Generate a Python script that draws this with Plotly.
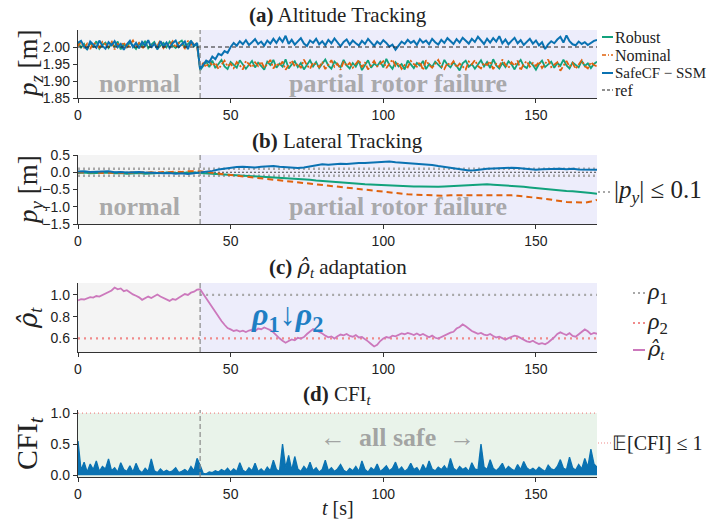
import plotly.graph_objects as go

# ---------------- data ----------------
t = list(range(0, 171))           # time [s], 1 s sampling
t_lat = list(range(0, 171, 2))    # time [s], 2 s sampling for lateral panel

x_ticks = [0, 50, 100, 150]
failure_time = 40
t_end = 170

pz_robust = [
    2.014, 1.998, 2.009, 1.992, 2.012, 2.001, 2.017, 1.995, 2.006, 2.013,
    1.997, 2.010, 2.002, 2.016, 1.993, 2.008, 1.999, 2.014, 2.004, 1.994,
    2.011, 2.003, 2.018, 1.996, 2.007, 2.015, 1.995, 2.005, 2.012, 1.999,
    2.016, 2.004, 1.997, 2.013, 2.019, 2.000, 2.009, 2.017, 2.002, 2.010,
    1.932, 1.944, 1.957, 1.941, 1.960, 1.938, 1.951, 1.962, 1.943, 1.935,
    1.956, 1.946, 1.939, 1.961, 1.950, 1.936, 1.948, 1.959, 1.940, 1.954,
    1.944, 1.933, 1.957, 1.947, 1.962, 1.939, 1.951, 1.942, 1.964, 1.937,
    1.949, 1.958, 1.941, 1.953, 1.934, 1.946, 1.961, 1.943, 1.956, 1.938,
    1.950, 1.963, 1.945, 1.936, 1.957, 1.948, 1.940, 1.962, 1.946, 1.937,
    1.953, 1.942, 1.959, 1.932, 1.948, 1.961, 1.939, 1.951, 1.944, 1.957,
    1.940, 1.965, 1.947, 1.936, 1.955, 1.943, 1.950, 1.934, 1.960, 1.948,
    1.938, 1.953, 1.945, 1.959, 1.935, 1.950, 1.941, 1.957, 1.947, 1.939,
    1.962, 1.948, 1.940, 1.955, 1.944, 1.931, 1.952, 1.960, 1.942, 1.950,
    1.936, 1.949, 1.961, 1.943, 1.956, 1.938, 1.964, 1.946, 1.937, 1.953,
    1.941, 1.958, 1.949, 1.934, 1.951, 1.962, 1.944, 1.938, 1.956, 1.947,
    1.933, 1.950, 1.960, 1.941, 1.948, 1.957, 1.939, 1.953, 1.945, 1.963,
    1.946, 1.937, 1.955, 1.948, 1.940, 1.959, 1.944, 1.952, 1.938, 1.950, 1.957,
]
pz_nominal = [
    2.003, 2.016, 1.997, 2.010, 1.994, 2.013, 2.006, 1.998, 2.015, 2.008,
    2.001, 2.018, 1.993, 2.009, 2.004, 2.014, 1.996, 2.007, 2.019, 1.999,
    2.012, 1.995, 2.006, 2.016, 2.000, 2.011, 2.003, 2.020, 1.997, 2.008,
    2.005, 2.017, 1.998, 2.012, 2.007, 1.996, 2.018, 2.006, 2.014, 2.001,
    1.940, 1.952, 1.941, 1.958, 1.945, 1.954, 1.935, 1.949, 1.960, 1.943,
    1.951, 1.938, 1.956, 1.946, 1.934, 1.959, 1.948, 1.940, 1.955, 1.944,
    1.957, 1.939, 1.950, 1.962, 1.937, 1.952, 1.945, 1.957, 1.933, 1.948,
    1.960, 1.943, 1.951, 1.938, 1.963, 1.946, 1.936, 1.954, 1.949, 1.941,
    1.956, 1.935, 1.947, 1.961, 1.942, 1.951, 1.933, 1.957, 1.945, 1.953,
    1.939, 1.950, 1.962, 1.940, 1.955, 1.934, 1.946, 1.959, 1.943, 1.951,
    1.958, 1.938, 1.949, 1.963, 1.944, 1.953, 1.936, 1.947, 1.940, 1.959,
    1.950, 1.942, 1.956, 1.932, 1.961, 1.947, 1.939, 1.952, 1.962, 1.944,
    1.935, 1.953, 1.946, 1.958, 1.940, 1.951, 1.943, 1.934, 1.957, 1.949,
    1.961, 1.944, 1.937, 1.953, 1.947, 1.958, 1.935, 1.950, 1.942, 1.963,
    1.948, 1.938, 1.955, 1.945, 1.960, 1.931, 1.951, 1.958, 1.942, 1.953,
    1.944, 1.957, 1.938, 1.950, 1.963, 1.941, 1.948, 1.955, 1.930, 1.946,
    1.959, 1.942, 1.953, 1.936, 1.949, 1.961, 1.944, 1.937, 1.955, 1.947, 1.943,
]
pz_safecf = [
    2.013, 2.018, 2.001, 1.994, 2.016, 2.007, 1.998, 2.019, 2.003, 1.995,
    2.014, 2.005, 2.017, 1.999, 2.009, 1.992, 2.008, 2.018, 2.000, 2.012,
    1.996, 2.015, 2.004, 2.020, 1.998, 2.010, 1.993, 2.017, 2.002, 2.013,
    1.997, 2.011, 2.019, 2.000, 2.008, 2.016, 1.994, 2.018, 2.004, 2.012,
    1.935, 1.948, 1.960, 1.955, 1.972, 1.964, 1.980, 1.976, 1.988, 1.983,
    2.000, 2.012, 2.004, 2.017, 2.008, 2.020, 2.006, 2.014, 2.023, 2.009,
    2.016, 2.004, 2.019, 2.010, 2.024, 2.012, 2.027, 2.015, 2.033, 2.009,
    2.021, 2.007, 2.016, 2.026, 2.010, 2.003, 2.019, 2.012, 2.024, 2.008,
    2.017, 2.005, 2.021, 2.011, 2.025, 2.014, 2.002, 2.015, 2.022, 2.007,
    2.019, 2.011, 2.004, 2.018, 2.009, 2.024, 2.013, 2.003, 2.016, 2.008,
    2.020, 2.012, 2.001, 2.007, 1.992, 2.006, 2.016, 2.009, 2.021, 2.012,
    2.018, 2.006, 2.023, 2.013, 2.019, 2.008, 2.024, 2.014, 2.007, 2.021,
    2.012, 2.026, 2.016, 2.009, 2.023, 2.013, 2.027, 2.017, 2.010, 2.024,
    2.015, 2.030, 2.019, 2.009, 2.024, 2.013, 2.026, 2.016, 2.032, 2.011,
    2.022, 2.008, 2.018, 2.027, 2.011, 2.020, 2.006, 2.015, 2.024, 2.010,
    2.019, 2.005, 2.014, 1.994, 2.008, 2.017, 2.011, 2.022, 2.030, 2.013,
    2.034, 2.017, 2.008, 2.005, 2.016, 2.009, 2.014, 2.006, 2.013, 2.018, 2.021,
]
pz_ref = 2.0

py_robust = [
    -0.02, -0.01, -0.03, -0.02, 0.00, -0.01, -0.03, -0.02, -0.04, -0.03,
    -0.02, -0.04, -0.03, -0.02, -0.03, -0.01, -0.02, -0.01, 0.00, -0.01,
    -0.02, -0.03, -0.04, -0.05, -0.06, -0.07, -0.08, -0.10, -0.11, -0.12,
    -0.13, -0.14, -0.16, -0.17, -0.18, -0.19, -0.20, -0.21, -0.22, -0.24,
    -0.25, -0.27, -0.28, -0.29, -0.31, -0.32, -0.33, -0.35, -0.36, -0.37,
    -0.38, -0.38, -0.39, -0.40, -0.40, -0.41, -0.41, -0.42, -0.41, -0.42,
    -0.41, -0.40, -0.39, -0.37, -0.36, -0.35, -0.34, -0.35, -0.36, -0.37,
    -0.37, -0.38, -0.40, -0.42, -0.44, -0.46, -0.48, -0.49, -0.51, -0.52,
    -0.54, -0.55, -0.56, -0.58, -0.60, -0.62,
]
py_nominal = [
    0.00, -0.01, 0.01, -0.01, -0.02, -0.01, -0.02, -0.03, -0.02, -0.01,
    -0.02, -0.01, 0.00, -0.01, 0.01, 0.00, 0.02, 0.01, 0.03, 0.04,
    0.03, 0.01, -0.02, -0.04, -0.06, -0.08, -0.10, -0.12, -0.13, -0.15,
    -0.17, -0.19, -0.21, -0.23, -0.24, -0.26, -0.28, -0.30, -0.32, -0.34,
    -0.36, -0.38, -0.40, -0.42, -0.44, -0.46, -0.48, -0.50, -0.53, -0.55,
    -0.57, -0.58, -0.60, -0.62, -0.64, -0.65, -0.66, -0.67, -0.67, -0.68,
    -0.68, -0.67, -0.67, -0.66, -0.67, -0.67, -0.66, -0.66, -0.65, -0.66,
    -0.66, -0.67, -0.68, -0.70, -0.71, -0.72, -0.75, -0.78, -0.81, -0.84,
    -0.86, -0.87, -0.88, -0.88, -0.85, -0.80,
]
py_safecf = [
    0.02, 0.03, 0.01, 0.02, 0.04, 0.03, 0.00, 0.01, -0.01, 0.00,
    0.01, -0.01, -0.02, -0.01, -0.03, -0.02, -0.04, -0.03, -0.05, -0.03,
    -0.01, 0.01, 0.04, 0.08, 0.11, 0.13, 0.15, 0.16, 0.15, 0.14,
    0.16, 0.17, 0.18, 0.16, 0.14, 0.13, 0.12, 0.14, 0.17, 0.21,
    0.23, 0.22, 0.24, 0.25, 0.24, 0.26, 0.27, 0.27, 0.28, 0.29,
    0.30, 0.31, 0.29, 0.28, 0.27, 0.26, 0.24, 0.23, 0.21, 0.18,
    0.15, 0.12, 0.09, 0.07, 0.05, 0.06, 0.09, 0.10, 0.11, 0.12,
    0.11, 0.13, 0.12, 0.10, 0.08, 0.07, 0.09, 0.10, 0.11, 0.10,
    0.09, 0.10, 0.08, 0.07, 0.08, 0.07,
]
py_bound = 0.1
py_ref = 0.0

rho_hat = [
    0.950, 0.962, 0.958, 0.971, 0.980, 0.975, 0.990, 0.984, 0.998, 1.012,
    1.025, 1.041, 1.068, 1.052, 1.060, 1.035, 1.044, 1.020, 1.005, 0.992,
    0.978, 0.955, 0.968, 0.985, 0.972, 0.990, 1.004, 0.986, 0.970, 0.958,
    0.945, 0.962, 0.955, 0.974, 0.990, 1.008, 1.000, 1.021, 1.030, 1.048,
    1.052, 1.010, 0.965, 0.930, 0.885, 0.840, 0.805, 0.760, 0.725, 0.695,
    0.682, 0.668, 0.675, 0.662, 0.670, 0.658, 0.672, 0.680, 0.665, 0.690,
    0.684, 0.700, 0.688, 0.676, 0.655, 0.625, 0.600, 0.578, 0.560, 0.575,
    0.590, 0.582, 0.605, 0.598, 0.612, 0.640, 0.665, 0.685, 0.672, 0.660,
    0.645, 0.625, 0.610, 0.618, 0.598, 0.620, 0.635, 0.628, 0.640, 0.622,
    0.615, 0.630, 0.608, 0.612, 0.595, 0.572, 0.548, 0.525, 0.540, 0.575,
    0.598, 0.612, 0.605, 0.625, 0.618, 0.632, 0.645, 0.638, 0.650, 0.642,
    0.630, 0.645, 0.628, 0.640, 0.622, 0.610, 0.625, 0.605, 0.598, 0.612,
    0.628, 0.640, 0.652, 0.660, 0.690, 0.705, 0.728, 0.712, 0.690, 0.668,
    0.655, 0.642, 0.650, 0.635, 0.628, 0.640, 0.622, 0.608, 0.615, 0.598,
    0.588, 0.602, 0.610, 0.625, 0.618, 0.600, 0.585, 0.572, 0.565, 0.578,
    0.560, 0.548, 0.555, 0.545, 0.562, 0.585, 0.610, 0.640, 0.655, 0.642,
    0.630, 0.648, 0.622, 0.615, 0.640, 0.660, 0.682, 0.665, 0.638, 0.650, 0.642,
]
rho_1 = 1.0
rho_2 = 0.6

cfi = [
    0.55, 0.08, 0.21, 0.05, 0.18, 0.09, 0.23, 0.06, 0.14, 0.10,
    0.26, 0.07, 0.12, 0.05, 0.20, 0.09, 0.06, 0.15, 0.05, 0.19,
    0.08, 0.04, 0.11, 0.06, 0.26, 0.07, 0.04, 0.10, 0.05, 0.08,
    0.05, 0.07, 0.12, 0.04, 0.06, 0.09, 0.05, 0.14, 0.07, 0.27,
    0.16, 0.03, 0.02, 0.05, 0.04, 0.07, 0.05, 0.09, 0.06, 0.11,
    0.05, 0.10, 0.06, 0.20, 0.08, 0.05, 0.12, 0.07, 0.19, 0.06,
    0.10, 0.05, 0.13, 0.07, 0.24, 0.09, 0.06, 0.50, 0.12, 0.32,
    0.08, 0.30, 0.10, 0.06, 0.14, 0.08, 0.21, 0.07, 0.12, 0.05,
    0.09, 0.24, 0.07, 0.12, 0.06, 0.10, 0.17, 0.08, 0.05, 0.11,
    0.07, 0.14, 0.06, 0.23, 0.09, 0.05, 0.12, 0.08, 0.18, 0.06,
    0.10, 0.15, 0.07, 0.11, 0.21, 0.08, 0.13, 0.06, 0.10, 0.19,
    0.09, 0.12, 0.05, 0.17, 0.08, 0.23, 0.10, 0.07, 0.13, 0.09,
    0.15, 0.08, 0.27, 0.11, 0.07, 0.14, 0.09, 0.12, 0.06, 0.20,
    0.10, 0.08, 0.50, 0.13, 0.09, 0.25, 0.11, 0.07, 0.12, 0.19,
    0.08, 0.14, 0.10, 0.07, 0.17, 0.09, 0.22, 0.12, 0.08, 0.11,
    0.07, 0.13, 0.09, 0.06, 0.16, 0.10, 0.08, 0.14, 0.25, 0.11,
    0.09, 0.29, 0.12, 0.08, 0.17, 0.10, 0.27, 0.13, 0.42, 0.18, 0.13,
]
cfi_bound = 1.0

# ---------------- styling ----------------
W, H = 719, 522
BLUE = "#0a72b2"
GREEN = "#12a27c"
ORANGE = "#e0620d"
PINK = "#cc78bc"
RED_DOT = "#f08a8a"
GRAY_DOT = "#a8a8a8"
SERIF = "Liberation Serif, Times New Roman, serif"
SANS = "Liberation Sans, Arial, sans-serif"
NORMAL_BG = "#f4f4f4"
FAIL_BG = "#ededfb"
SAFE_BG = "#e9f3ea"
RHOHAT = '<span style="font-family:DejaVu Serif"><i>\u03c1\u0302</i></span>'


def px(xp):
    return xp / W


def py(yp):
    return 1 - yp / H


# plot boxes in pixels: (top, bottom)
X0, X1 = 78, 597
boxes = [(30, 98), (155, 224), (283, 352), (410, 477)]

fig = go.Figure()

# panel (a)
fig.add_trace(go.Scatter(x=t, y=pz_robust, mode="lines", line=dict(color=GREEN, width=1.8),
                         xaxis="x", yaxis="y", showlegend=False))
fig.add_trace(go.Scatter(x=t, y=pz_nominal, mode="lines", line=dict(color=ORANGE, width=1.8, dash="6px,2px,2px,2px"),
                         xaxis="x", yaxis="y", showlegend=False))
fig.add_trace(go.Scatter(x=t, y=pz_safecf, mode="lines", line=dict(color=BLUE, width=2),
                         xaxis="x", yaxis="y", showlegend=False))
fig.add_trace(go.Scatter(x=[0, t_end], y=[pz_ref, pz_ref], mode="lines",
                         line=dict(color="#222", width=1, dash="4px,3px"),
                         xaxis="x", yaxis="y", showlegend=False))

# panel (b)
for yv in (py_bound, -py_bound):
    fig.add_trace(go.Scatter(x=[0, t_end], y=[yv, yv], mode="lines",
                             line=dict(color=GRAY_DOT, width=2.5, dash="2px,3px"),
                             xaxis="x2", yaxis="y2", showlegend=False))
fig.add_trace(go.Scatter(x=[0, t_end], y=[py_ref, py_ref], mode="lines",
                         line=dict(color="#444", width=1, dash="2px,2px"),
                         xaxis="x2", yaxis="y2", showlegend=False))
fig.add_trace(go.Scatter(x=t_lat, y=py_robust, mode="lines", line=dict(color=GREEN, width=2),
                         xaxis="x2", yaxis="y2", showlegend=False))
fig.add_trace(go.Scatter(x=t_lat, y=py_nominal, mode="lines", line=dict(color=ORANGE, width=2, dash="6px,4px"),
                         xaxis="x2", yaxis="y2", showlegend=False))
fig.add_trace(go.Scatter(x=t_lat, y=py_safecf, mode="lines", line=dict(color=BLUE, width=2),
                         xaxis="x2", yaxis="y2", showlegend=False))

# panel (c)
fig.add_trace(go.Scatter(x=[failure_time, t_end], y=[rho_1, rho_1], mode="lines",
                         line=dict(color=GRAY_DOT, width=2.2, dash="2px,4px"),
                         xaxis="x3", yaxis="y3", showlegend=False))
fig.add_trace(go.Scatter(x=[0, t_end], y=[rho_2, rho_2], mode="lines",
                         line=dict(color=RED_DOT, width=2.2, dash="2px,4px"),
                         xaxis="x3", yaxis="y3", showlegend=False))
fig.add_trace(go.Scatter(x=t, y=rho_hat, mode="lines", line=dict(color=PINK, width=1.8),
                         xaxis="x3", yaxis="y3", showlegend=False))

# panel (d)
fig.add_trace(go.Scatter(x=[0, t_end], y=[cfi_bound, cfi_bound], mode="lines",
                         line=dict(color=RED_DOT, width=1.2, dash="1px,3px"),
                         xaxis="x4", yaxis="y4", showlegend=False))
fig.add_trace(go.Scatter(x=t, y=cfi, mode="lines", line=dict(color=BLUE, width=1.3),
                         fill="tozeroy", fillcolor=BLUE,
                         xaxis="x4", yaxis="y4", showlegend=False))

# ---------------- axes ----------------
yranges = [[1.85, 2.05], [-1.5, 0.5], [0.474, 1.11], [-0.03, 1.05]]
yticks = [
    ([1.85, 1.90, 1.95, 2.00], ["1.85", "1.90", "1.95", "2.00"]),
    ([-1.5, -1.0, -0.5, 0.0, 0.5], ["\u22121.5", "\u22121.0", "\u22120.5", "0.0", "0.5"]),
    ([0.6, 0.8, 1.0], ["0.6", "0.8", "1.0"]),
    ([0.0, 0.5, 1.0], ["0.0", "0.5", "1.0"]),
]
axcommon = dict(showline=True, linecolor="#333", linewidth=1.4, ticks="outside", ticklen=4,
                tickwidth=1.2, tickcolor="#333", showgrid=False, zeroline=False, automargin=False,
                tickfont=dict(family=SANS, size=14, color="#222"))
layout = {}
for i, ((top, bot), yr, (tv, tt)) in enumerate(zip(boxes, yranges, yticks)):
    n = "" if i == 0 else str(i + 1)
    layout["xaxis" + n] = dict(domain=[px(X0), px(X1)], range=[0, t_end], anchor="y" + n,
                               tickvals=x_ticks, ticktext=[str(v) for v in x_ticks], **axcommon)
    layout["yaxis" + n] = dict(domain=[py(bot), py(top)], range=yr, anchor="x" + n,
                               tickvals=tv, ticktext=tt, **axcommon)

# ---------------- background shapes ----------------
shapes = []
for i in range(3):
    n = "" if i == 0 else str(i + 1)
    shapes.append(dict(type="rect", xref="x" + n, yref="y" + n + " domain", x0=0, x1=failure_time,
                       y0=0, y1=1, fillcolor=NORMAL_BG, line=dict(width=0), layer="below"))
    shapes.append(dict(type="rect", xref="x" + n, yref="y" + n + " domain", x0=failure_time, x1=t_end,
                       y0=0, y1=1, fillcolor=FAIL_BG, line=dict(width=0), layer="below"))
shapes.append(dict(type="rect", xref="x4", yref="y4", x0=0, x1=t_end, y0=yranges[3][0], y1=cfi_bound,
                   fillcolor=SAFE_BG, line=dict(width=0), layer="below"))
for i in range(4):
    n = "" if i == 0 else str(i + 1)
    shapes.append(dict(type="line", xref="x" + n, yref="y" + n + " domain", x0=failure_time, x1=failure_time,
                       y0=0, y1=1, line=dict(color="#8a8a8a", width=1.2, dash="5px,3px"), layer="above"))


# legend samples (paper coords)
def sample(x0p, x1p, yp, color, dash, width=1.6):
    shapes.append(dict(type="line", xref="paper", yref="paper", x0=px(x0p), x1=px(x1p),
                       y0=py(yp), y1=py(yp), line=dict(color=color, width=width, dash=dash)))


sample(602, 613, 37, GREEN, "solid", 2)
sample(602, 613, 55, ORANGE, "4px,2px,1px,2px", 1.6)
sample(602, 613, 73, BLUE, "solid", 2)
sample(602, 613, 90, "#222", "3px,2px", 1.2)
sample(598, 612, 192, GRAY_DOT, "2px,3px", 2)
sample(633, 645, 293, GRAY_DOT, "2px,3px", 2)
sample(633, 645, 323, RED_DOT, "2px,3px", 2)
sample(633, 645, 350, PINK, "solid", 2)
sample(598, 611, 443, RED_DOT, "1px,2px", 1.2)

# ---------------- annotations ----------------
ann = []


def text(xp, yp, s, size, color="#222", family=SERIF, xanchor="center", angle=0):
    ann.append(dict(x=px(xp), y=py(yp), xref="paper", yref="paper", text=s, showarrow=False,
                    font=dict(family=family, size=size, color=color), xanchor=xanchor,
                    yanchor="middle", textangle=angle, borderpad=0))


cx = (X0 + X1) / 2
text(cx, 15, "<b>(a)</b> Altitude Tracking", 21)
text(cx, 141, "<b>(b)</b> Lateral Tracking", 21)
text(cx, 268, "<b>(c)</b> " + RHOHAT + "<sub><i>t</i></sub> adaptation", 21)
text(cx, 395, "<b>(d)</b> CFI<sub><i>t</i></sub>", 21)
text(cx, 508, "<i>t</i> [s]", 20)

# y labels
text(30, 64, "<i>p</i><sub><i>z</i></sub> [m]", 27, angle=-90)
text(30, 190, "<i>p</i><sub><i>y</i></sub> [m]", 27, angle=-90)
text(29, 318, RHOHAT + "<sub><i>t</i></sub>", 26, angle=-90)
text(29, 443, "CFI<sub><i>t</i></sub>", 30, angle=-90)

# right-side legends
text(614, 37, "Robust", 16, xanchor="left")
text(614, 55, "Nominal", 16, xanchor="left")
text(614, 73, "SafeCF \u2212 SSM", 15, xanchor="left")
text(614, 90, "ref", 16, xanchor="left")
text(613, 191, "|<i>p</i><sub><i>y</i></sub>| \u2264 0.1", 25, xanchor="left")
text(646, 293, "<i>\u03c1</i><sub>1</sub>", 24, xanchor="left")
text(646, 323, "<i>\u03c1</i><sub>2</sub>", 24, xanchor="left")
text(646, 350, RHOHAT + "<sub><i>t</i></sub>", 21, xanchor="left")
text(611, 443, "\U0001D53C[CFI] \u2264 1", 20, xanchor="left")

# in-plot region texts (data coords)
REG = "rgba(150,150,150,0.8)"
for n, yv in (("", 1.894), ("2", -1.0)):
    ann.append(dict(x=20.3, y=yv, xref="x" + n, yref="y" + n, text="<b>normal</b>", showarrow=False,
                    font=dict(family=SERIF, size=26, color=REG)))
    ann.append(dict(x=104.8, y=yv, xref="x" + n, yref="y" + n, text="<b>partial rotor failure</b>",
                    showarrow=False, font=dict(family=SERIF, size=26, color=REG)))
ann.append(dict(x=68.5, y=0.80, xref="x3", yref="y3",
                text="<b><i>\u03c1</i><sub>1</sub>\u2193<i>\u03c1</i><sub>2</sub></b>", showarrow=False,
                font=dict(family=SERIF, size=32, color="#1f7fc4")))
ann.append(dict(x=104.5, y=0.6, xref="x4", yref="y4", text="\u2190  <b>all safe</b>  \u2192", showarrow=False,
                font=dict(family=SERIF, size=26, color="rgba(150,150,150,0.85)")))

fig.update_layout(
    width=W, height=H, margin=dict(l=0, r=0, t=0, b=0),
    paper_bgcolor="white", plot_bgcolor="white",
    shapes=shapes, annotations=ann, showlegend=False, **layout,
)

fig.write_html("out.html", config={"displayModeBar": False},
               post_script="document.body.style.margin='0';document.body.style.overflow='hidden';")
